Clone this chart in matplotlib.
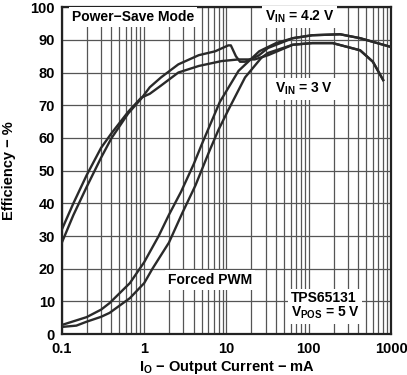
import numpy as np
import matplotlib
matplotlib.use('Agg')
import matplotlib.pyplot as plt

plt.rcParams['font.family'] = 'Liberation Sans'
plt.rcParams['font.weight'] = 'bold'
plt.rcParams['mathtext.fontset'] = 'custom'
plt.rcParams['mathtext.rm'] = 'Liberation Sans:bold'
plt.rcParams['mathtext.it'] = 'Liberation Sans:bold'
plt.rcParams['mathtext.bf'] = 'Liberation Sans:bold'
plt.rcParams['mathtext.default'] = 'rm'

# power-save mode, VIN = 4.2 V (the one with the bump near 11 mA)
psm42_i = [0.1, 0.138, 0.2, 0.3, 0.4, 0.64, 0.92, 1.17, 1.6, 2.6, 4.6, 7.3, 10.5, 11.3,
           13, 14.6, 16.8, 24.6, 31.9, 64, 110, 240, 420, 1000]
psm42_e = [28, 36.4, 45, 54, 59.9, 67.5, 72, 75.5, 78.5, 82.5, 85.3, 86.5, 88.3, 88.3,
           85, 83.3, 83.3, 85.2, 87.5, 90.5, 91.4, 91.7, 90.5, 87.8]
# power-save mode, VIN = 3 V
psm3_i = [0.1, 0.138, 0.2, 0.3, 0.4, 0.64, 0.92, 1.17, 1.6, 2.6, 4.6, 8.7, 13.9, 22,
          32, 64, 110, 195, 420, 600, 800]
psm3_e = [32, 40, 48.6, 57, 61.4, 68, 72.3, 73.5, 76, 80, 82, 83.5, 84, 84,
          85.3, 88.5, 89, 89, 86.8, 83.3, 77.7]
# forced PWM, VIN = 4.2 V
pwm42_i = [0.1, 0.2, 0.3, 0.38, 0.67, 1, 1.5, 2, 2.8, 4, 5, 8.3, 14, 25,
           40, 64, 110, 240, 420, 1000]
pwm42_e = [2.8, 5.2, 7.5, 9.5, 15.6, 22, 30, 36.5, 43.5, 52, 58, 71, 80.5, 86.5,
           89, 90.5, 91.4, 91.7, 90.5, 87.8]
# forced PWM, VIN = 3 V
pwm3_i = [0.1, 0.15, 0.2, 0.3, 0.38, 0.67, 1, 1.26, 2, 2.9, 4.2, 6.2, 8, 10.5,
          16.8, 26.5, 32, 64, 110, 195, 420, 600, 800]
pwm3_e = [2.2, 2.6, 3.8, 5.3, 6.5, 11, 15.6, 20, 28, 37, 45.5, 56, 62.5, 68.5,
          78.5, 84.5, 86, 88.5, 89, 89, 86.8, 83.3, 77.7]

fig = plt.figure(figsize=(4.07, 3.75), dpi=100)
ax = fig.add_axes([0.152, 0.109, 0.809, 0.872])

for xs, ys in [(psm42_i, psm42_e), (psm3_i, psm3_e), (pwm42_i, pwm42_e), (pwm3_i, pwm3_e)]:
    ax.plot(xs, ys, color='#2a2a2a', lw=1.7, zorder=3, solid_joinstyle='round')

ax.set_xscale('log')
ax.set_xlim(0.1, 1000)
ax.set_ylim(0, 100)
ax.set_yticks(np.arange(0, 101, 10))
ax.set_xticks([0.1, 1, 10, 100, 1000])
ax.set_xticklabels(['0.1', '1', '10', '100', '1000'])
ax.grid(True, which='major', color='#555555', lw=0.9)
ax.grid(True, which='minor', axis='x', color='#555555', lw=0.9)
ax.tick_params(which='both', length=0, labelsize=10.5)
ax.tick_params(axis='y', pad=5)
ax.tick_params(axis='x', pad=6)
for s in ax.spines.values():
    s.set_linewidth(1.6)
    s.set_color('#222222')

ax.set_xlabel(r'I$_{O}$ − Output Current − mA', fontsize=10.5, fontweight='bold', labelpad=2)
ax.set_ylabel('Efficiency − %', fontsize=10.5, fontweight='bold')
ax.yaxis.set_label_coords(-0.14, 0.5)

box = dict(facecolor='white', edgecolor='none', pad=2)
ax.text(0.132, 97, 'Power−Save Mode', fontsize=10, ha='left', va='center', bbox=box, zorder=4)
ax.text(29, 97, r'V$_{IN}$ = 4.2 V', fontsize=10, ha='left', va='center', bbox=box, zorder=4)
ax.text(38.5, 75, r'V$_{IN}$ = 3 V', fontsize=10, ha='left', va='center', bbox=box, zorder=4)
ax.text(1.95, 16.5, 'Forced PWM', fontsize=10, ha='left', va='center', bbox=box, zorder=4)
ax.text(60, 8.6, 'TPS65131\n' + r'V$_{POS}$ = 5 V', fontsize=10, ha='left', va='center',
        linespacing=1.0, bbox=box, zorder=4)

plt.savefig('out.png', dpi=100)
